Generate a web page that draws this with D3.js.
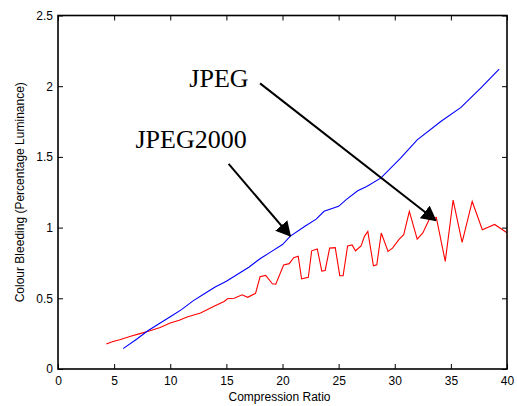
<!doctype html>
<html>
    <head>
        <script src="https://d3js.org/d3.v7.min.js"></script>
        <style>
            body { margin: 0; background: #fff; }
        </style>
    </head>
    <body>
        <script>
            // JPEG2000 (blue)
            var j2kX = [5.8, 7, 8, 9, 10, 11, 12, 13, 14, 15, 16, 17, 18, 19, 20, 20.7, 22, 23, 23.7, 25, 25.7, 26.7, 27.5, 28.75, 30.5, 32, 34.1, 35.9, 37.7, 39.3];
            var j2kY = [0.144, 0.21, 0.27, 0.32, 0.37, 0.42, 0.48, 0.53, 0.58, 0.62, 0.67, 0.72, 0.78, 0.83, 0.88, 0.94, 1.01, 1.06, 1.115, 1.15, 1.2, 1.26, 1.29, 1.35, 1.49, 1.62, 1.75, 1.85, 1.99, 2.12];

            // JPEG (red)
            var jpgX = [4.3, 4.9, 5.5, 6.4, 7.3, 8.2, 9.1, 10.0, 10.8, 11.5, 12.7, 13.9, 14.8, 15.1, 15.7, 16.4, 16.9, 17.6, 18.0, 18.5, 19.1, 19.4, 20.1, 20.6, 21.0, 21.4, 21.7, 22.3, 22.6, 23.1, 23.5, 23.8, 24.2, 24.7, 25.1, 25.4, 25.8, 26.2, 26.5, 27.0, 27.3, 27.6, 28.1, 28.4, 28.8, 29.4, 29.8, 30.4, 30.8, 31.3, 32.0, 32.5, 33.1, 33.7, 34.5, 35.2, 36.0, 36.9, 37.8, 38.9, 40.0];
            var jpgY = [0.177, 0.195, 0.207, 0.23, 0.25, 0.271, 0.294, 0.325, 0.345, 0.368, 0.396, 0.443, 0.478, 0.497, 0.5, 0.525, 0.507, 0.535, 0.652, 0.662, 0.603, 0.6, 0.735, 0.745, 0.787, 0.798, 0.638, 0.648, 0.836, 0.849, 0.692, 0.697, 0.855, 0.858, 0.66, 0.66, 0.87, 0.877, 0.836, 0.87, 0.938, 0.973, 0.73, 0.737, 0.962, 0.832, 0.855, 0.919, 0.95, 1.115, 0.919, 0.962, 1.063, 1.072, 0.761, 1.195, 0.895, 1.185, 0.985, 1.022, 0.964];

            var xTicks = [0, 5, 10, 15, 20, 25, 30, 35, 40];
            var yTicks = [0, 0.5, 1, 1.5, 2, 2.5];

            // annotations: label, text position, arrow start, arrow end (data units)
            var notes = [
                {label: "JPEG", tx: 11.7, ty: 1.995, x1: 18.0, y1: 2.02, x2: 33.66, y2: 1.05},
                {label: "JPEG2000", tx: 6.9, ty: 1.56, x1: 15.2, y1: 1.45, x2: 20.7, y2: 0.94}
            ];

            var width = 517, height = 406;
            var margin = {left: 58, top: 15.5, right: 10, bottom: 37};
            var w = width - margin.left - margin.right;
            var h = height - margin.top - margin.bottom;
            var sans = "'Liberation Sans', Arial, sans-serif";

            var svg = d3.select("body").append("svg")
                .attr("width", width)
                .attr("height", height);

            var g = svg.append("g")
                .attr("transform", "translate(" + margin.left + "," + margin.top + ")");

            var x = d3.scaleLinear().domain([0, 40]).range([0, w]);
            var y = d3.scaleLinear().domain([0, 2.5]).range([h, 0]);

            var line = d3.line()
                .x(function(d) { return x(d[0]); })
                .y(function(d) { return y(d[1]); });

            g.append("path")
                .datum(jpgX.map(function(v, i) { return [v, jpgY[i]]; }))
                .attr("d", line)
                .attr("fill", "none")
                .attr("stroke", "#ff0000")
                .attr("stroke-width", 1.1);

            g.append("path")
                .datum(j2kX.map(function(v, i) { return [v, j2kY[i]]; }))
                .attr("d", line)
                .attr("fill", "none")
                .attr("stroke", "#0000ff")
                .attr("stroke-width", 1.1);

            // axes, ticks inward like matlab
            var fmt = function(d) { return d; };
            g.append("g").attr("transform", "translate(0," + h + ")")
                .call(d3.axisBottom(x).tickValues(xTicks).tickFormat(fmt).tickSizeInner(-5).tickSizeOuter(0).tickPadding(7));
            g.append("g")
                .call(d3.axisLeft(y).tickValues(yTicks).tickFormat(fmt).tickSizeInner(-5).tickSizeOuter(0).tickPadding(5));
            g.append("g")
                .call(d3.axisTop(x).tickValues(xTicks).tickFormat("").tickSizeInner(-5).tickSizeOuter(0));
            g.append("g").attr("transform", "translate(" + w + ",0)")
                .call(d3.axisRight(y).tickValues(yTicks).tickFormat("").tickSizeInner(-5).tickSizeOuter(0));

            g.selectAll(".domain").remove();
            g.selectAll(".tick line").attr("stroke", "#000").attr("stroke-width", 1);
            g.selectAll(".tick text").attr("font-size", 12).attr("fill", "#000")
                .style("font-family", sans);

            g.append("rect")
                .attr("width", w)
                .attr("height", h)
                .attr("fill", "none")
                .attr("stroke", "#000")
                .attr("stroke-width", 1.6);

            // arrows
            svg.append("defs").append("marker")
                .attr("id", "head")
                .attr("markerUnits", "userSpaceOnUse")
                .attr("viewBox", "0 0 15 16")
                .attr("markerWidth", 15)
                .attr("markerHeight", 16)
                .attr("refX", 14)
                .attr("refY", 8)
                .attr("orient", "auto")
                .append("path")
                .attr("d", "M0,0 L15,8 L0,16 Z")
                .attr("fill", "#000");

            g.selectAll(".arrow")
                .data(notes)
                .enter().append("line")
                .attr("class", "arrow")
                .attr("x1", function(d) { return x(d.x1); })
                .attr("y1", function(d) { return y(d.y1); })
                .attr("x2", function(d) { return x(d.x2); })
                .attr("y2", function(d) { return y(d.y2); })
                .attr("stroke", "#000")
                .attr("stroke-width", 2)
                .attr("marker-end", "url(#head)");

            g.selectAll(".note")
                .data(notes)
                .enter().append("text")
                .attr("class", "note")
                .attr("x", function(d) { return x(d.tx); })
                .attr("y", function(d) { return y(d.ty); })
                .style("font-family", "'Liberation Serif', 'Times New Roman', serif")
                .attr("font-size", 26)
                .text(function(d) { return d.label; });

            // axis titles
            svg.append("text")
                .attr("x", margin.left + w / 2 - 3)
                .attr("y", 401)
                .attr("text-anchor", "middle")
                .style("font-family", sans)
                .attr("font-size", 12)
                .text("Compression Ratio");

            svg.append("text")
                .attr("transform", "translate(24," + (margin.top + h / 2) + ") rotate(-90)")
                .attr("text-anchor", "middle")
                .style("font-family", sans)
                .attr("font-size", 12)
                .text("Colour Bleeding (Percentage Luminance)");
        </script>
    </body>
</html>
